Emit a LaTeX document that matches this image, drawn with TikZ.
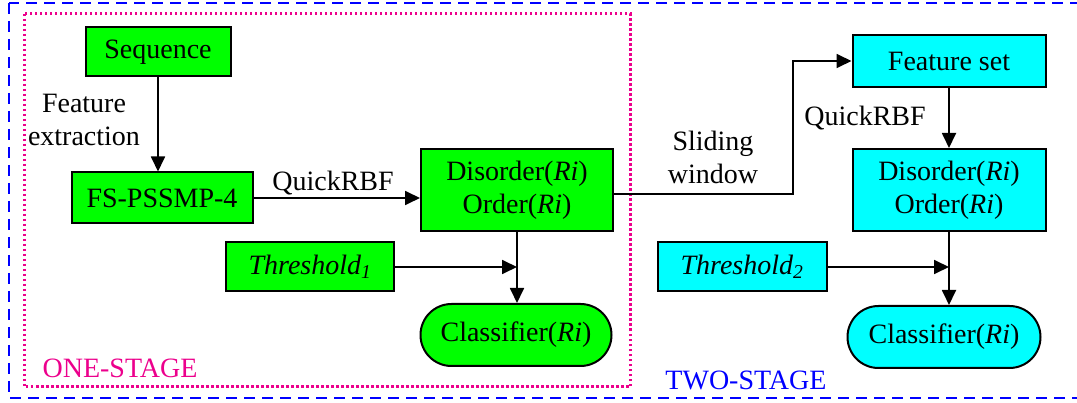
\documentclass[tikz,border=0pt]{standalone}
\usepackage{fontspec}
\setmainfont{Liberation Serif}
\usetikzlibrary{positioning,arrows.meta,shapes.misc}
\definecolor{boxgreen}{RGB}{0,255,0}
\definecolor{boxcyan}{RGB}{0,255,255}
\tikzset{
  greenbox/.style={draw, line width=2pt, fill=boxgreen, inner sep=0pt, align=center},
  cyanbox/.style={draw, line width=2pt, fill=boxcyan, inner sep=0pt, align=center},
  classbox/.style={rounded rectangle, minimum width=#1, minimum height=62pt},
  arr/.style={line width=1.8pt, -{Triangle[length=15pt,width=14pt]}},
  lbl/.style={align=center, inner sep=0pt}
}
\begin{document}
\begin{tikzpicture}[x=1pt, y=-1pt, font=\fontsize{28}{33}\selectfont]
    \useasboundingbox (0,0) rectangle (1077,403);

    % Molduras
    \draw[blue, line width=2.6pt, dash pattern=on 11pt off 7pt] (9,3) rectangle (1095,398);
    \draw[magenta, line width=3pt, dash pattern=on 2.5pt off 2.5pt] (24,14) rectangle (630,387);

    % Primeira etapa
    \node[greenbox, minimum width=145pt, minimum height=49pt] (seq) at (158,52) {Sequence};
    \node[greenbox, minimum width=181pt, minimum height=51pt] (fs) at (162,198) {FS-PSSMP-4};
    \node[greenbox, minimum width=192pt, minimum height=82pt] (dis1) at (517,190) {Disorder(\textit{Ri})\\Order(\textit{Ri})};
    \node[greenbox, minimum width=168pt, minimum height=49pt] (thr1) at (310,267) {\textit{Threshold\textsubscript{1}}};
    \node[greenbox, classbox=191pt] (cls1) at (516,335) {Classifier(\textit{Ri})};

    % Segunda etapa
    \node[cyanbox, minimum width=193pt, minimum height=52pt] (fset) at (949,61) {Feature set};
    \node[cyanbox, minimum width=193pt, minimum height=82pt] (dis2) at (949,190) {Disorder(\textit{Ri})\\Order(\textit{Ri})};
    \node[cyanbox, minimum width=169pt, minimum height=49pt] (thr2) at (742,267) {\textit{Threshold\textsubscript{2}}};
    \node[cyanbox, classbox=193pt] (cls2) at (944,337) {Classifier(\textit{Ri})};

    % Rotulos
    \node[lbl] (fext) at (84,120) {Feature\\extraction};
    \node[lbl] (qr1) at (333,183) {QuickRBF};
    \node[lbl] (slw) at (713,157) {Sliding\\window};
    \node[lbl] (qr2) at (865,118) {QuickRBF};
    \node[lbl, text=magenta] (one) at (120,368) {ONE-STAGE};
    \node[lbl, text=blue] (two) at (746,380) {TWO-STAGE};

    % Conexoes
    \coordinate (sw) at (793,194);
    \draw[arr] (seq.south) -- (seq.south |- fs.north);
    \draw[arr] (fs.east) -- (fs.east -| dis1.west);
    \draw[arr] (dis1.south) -- (dis1.south |- cls1.north);
    \draw[arr] (thr1.east) -- (thr1.east -| dis1.south);
    \draw[arr] (dis1.east |- sw) -- (sw) |- (fset.west);
    \draw[arr] (fset) -- (dis2);
    \draw[arr] (dis2) -- (cls2.north -| dis2.south);
    \draw[arr] (thr2.east) -- (thr2.east -| dis2.south);
\end{tikzpicture}
\end{document}
